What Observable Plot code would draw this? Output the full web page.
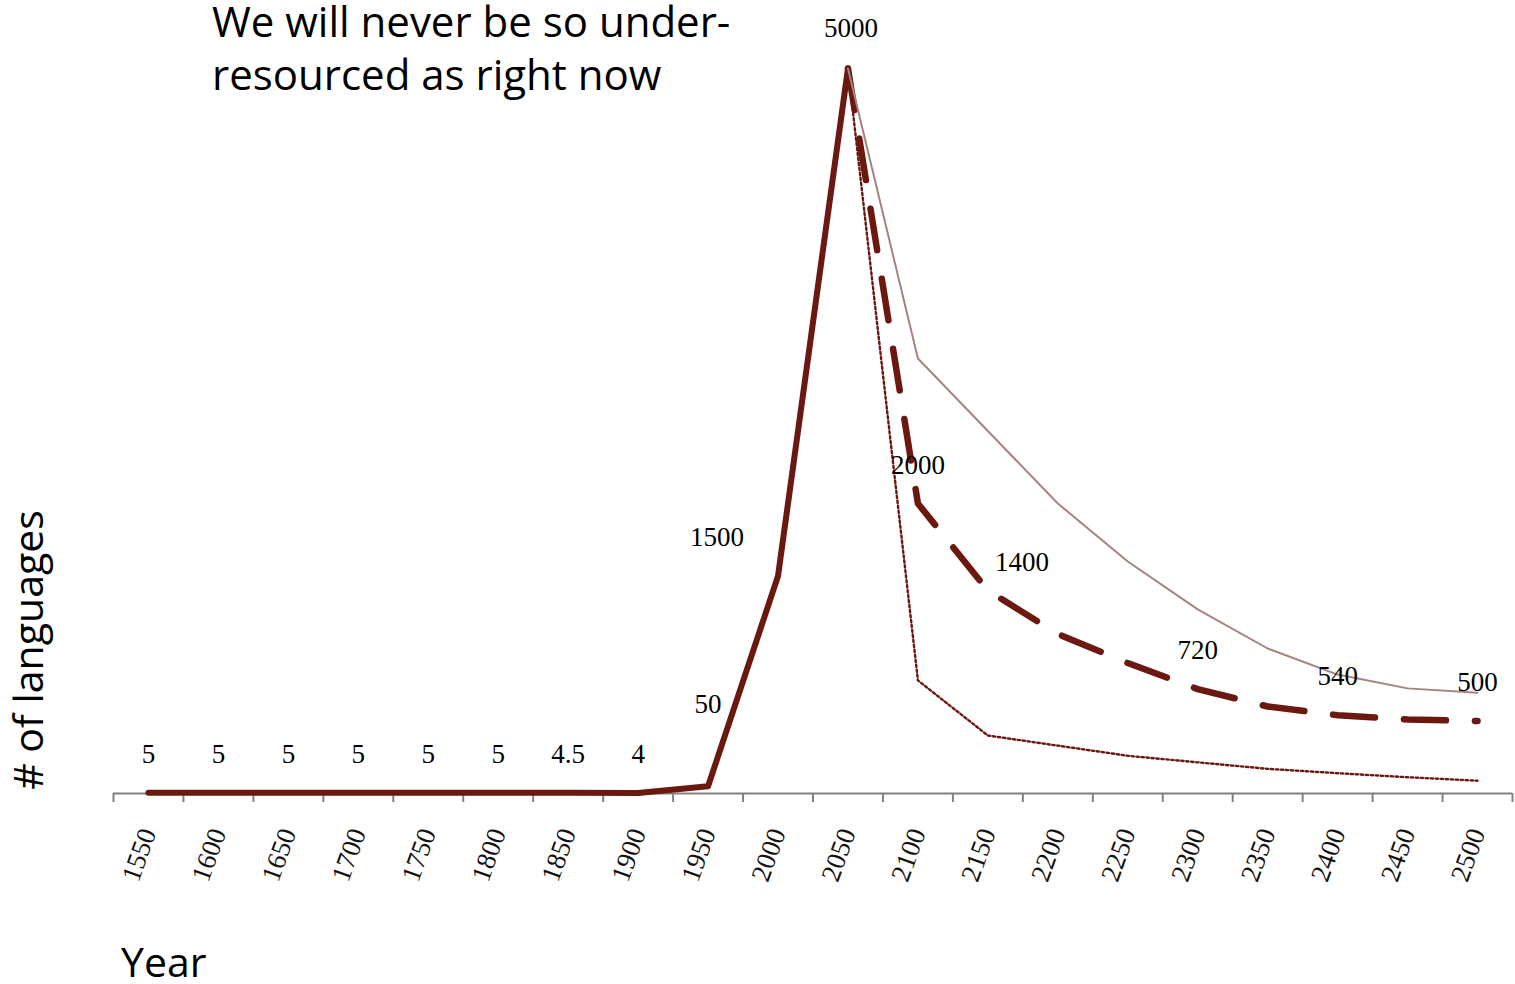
<!DOCTYPE html>
<html>
<head>
<meta charset="utf-8">
<script src="https://cdn.jsdelivr.net/npm/d3@7"></script>
<script src="https://cdn.jsdelivr.net/npm/@observablehq/plot@0.6"></script>
<style>
  html, body { margin: 0; padding: 0; background: #fff; }
  #chart { position: relative; width: 1515px; height: 984px; overflow: hidden; }
</style>
</head>
<body>
<div id="chart"></div>
<script>
// Number of languages with language technology, past and projected
const histYears  = [1550, 1600, 1650, 1700, 1750, 1800, 1850, 1900, 1950, 2000, 2050];
const histValues = [5, 5, 5, 5, 5, 5, 4.5, 4, 50, 1500, 5000];

const projYears = [2050, 2100, 2150, 2200, 2250, 2300, 2350, 2400, 2450, 2500];
const projHigh  = [5000, 3000, 2500, 2000, 1600, 1270, 1000, 820, 725, 695];
const projMid   = [5000, 2000, 1400, 1100, 900, 720, 600, 540, 510, 500];
const projLow   = [5000, 780, 400, 330, 260, 215, 170, 140, 112, 88];

// Values printed next to the lines
const labelYears  = [...histYears, 2100, 2150, 2300, 2400, 2500];
const labelValues = [...histValues, 2000, 1400, 720, 540, 500];

// Category axis: one label per year, tick marks between categories
const tickYears  = [1550, 1600, 1650, 1700, 1750, 1800, 1850, 1900, 1950, 2000,
                    2050, 2100, 2150, 2200, 2250, 2300, 2350, 2400, 2450, 2500];
const tickLabels = tickYears.map(String);
const boundaryTicks = [...tickYears.map(y => y - 25), tickYears[tickYears.length - 1] + 25];

const hist = histYears.map((year, i) => ({year, value: histValues[i]}));
const high = projYears.map((year, i) => ({year, value: projHigh[i]}));
const mid  = projYears.map((year, i) => ({year, value: projMid[i]}));
const low  = projYears.map((year, i) => ({year, value: projLow[i]}));
const labels = labelYears.map((year, i) => ({year, value: labelValues[i]}));

const DARK = "#6b1810";
const PALE = "#a5837f";
const labelFont = {fontFamily: "'Liberation Serif', 'Times New Roman', serif", fontSize: 27, fill: "#000"};
const nudged = new Set([1950, 2000, 2050, 2150]);
const labelAt = (year, dx, dy) => Plot.text(labels.filter(d => d.year === year), {
  x: "year", y: "value", text: d => String(d.value), dx, dy, lineAnchor: "bottom", ...labelFont
});

const chart = Plot.plot({
  width: 1515,
  height: 984,
  marginLeft: 113,
  marginRight: 3,
  marginTop: 68,
  marginBottom: 191,
  x: {domain: [1525, 2525], axis: null},
  y: {domain: [0, 5000], axis: null},
  style: {background: "#fff", overflow: "visible", fontFamily: "'Liberation Serif', serif", fontSize: "27px"},
  marks: [
    Plot.ruleY([0], {stroke: "#808080", strokeWidth: 2}),
    Plot.axisX(boundaryTicks, {tickSize: 9, stroke: "#808080", strokeWidth: 2, tickFormat: () => "", label: null}),
    Plot.axisX(tickYears, {
      tickSize: 0, tickPadding: 36, tickRotate: -70,
      textAnchor: "end", lineAnchor: "middle", label: null,
      tickFormat: d => tickLabels[tickYears.indexOf(d)],
      ...labelFont, fill: "#111"
    }),
    Plot.line(hist, {x: "year", y: "value", stroke: DARK, strokeWidth: 6,
                     strokeLinejoin: "round", strokeLinecap: "round"}),
    Plot.line(mid, {x: "year", y: "value", stroke: DARK, strokeWidth: 6.5,
                    strokeDasharray: "42,29", strokeLinejoin: "round", strokeLinecap: "round"}),
    Plot.line(low, {x: "year", y: "value", stroke: DARK, strokeWidth: 2.4,
                    strokeDasharray: "2.4,2.6"}),
    Plot.line(high, {x: "year", y: "value", stroke: PALE, strokeWidth: 2}),
    Plot.text(labels.filter(d => !nudged.has(d.year)), {
      x: "year", y: "value", text: d => String(d.value), dy: -30, lineAnchor: "bottom", ...labelFont
    }),
    labelAt(1950, 0, -73),
    labelAt(2000, -61, -30),
    labelAt(2050, 3, -32),
    labelAt(2150, 34, -20)
  ]
});

document.getElementById("chart").appendChild(chart);

// Headline and axis titles
const svg = d3.select(chart);
const sans = "'Open Sans', 'Noto Sans', sans-serif";
const headline = svg.append("text")
  .attr("font-family", sans).attr("font-size", 42).attr("fill", "#000")
  .attr("text-anchor", "start");
headline.append("tspan").attr("x", 212).attr("y", 37).text("We will never be so under-");
headline.append("tspan").attr("x", 212).attr("y", 90).text("resourced as right now");

svg.append("text")
  .attr("font-family", sans).attr("font-size", 41).attr("fill", "#000")
  .attr("text-anchor", "middle")
  .attr("transform", "translate(43,650) rotate(-90)")
  .text("# of languages");

svg.append("text")
  .attr("font-family", sans).attr("font-size", 41).attr("fill", "#000")
  .attr("text-anchor", "start")
  .attr("x", 121).attr("y", 977)
  .text("Year");
</script>
</body>
</html>
